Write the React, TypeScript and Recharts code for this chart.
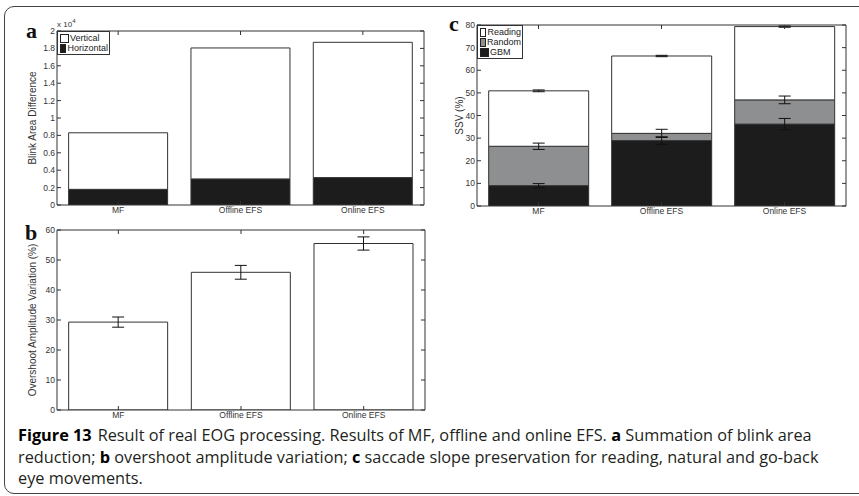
import { BarChart, Bar, XAxis, YAxis, ErrorBar } from "recharts";

const methods = ["MF", "Offline EFS", "Online EFS"];

// a: blink area difference (raw units, axis shown as x 10^4)
const horizontalArea = [1800, 3000, 3150];
const verticalArea = [6500, 15050, 15550];
const blinkTicks = [0, 2000, 4000, 6000, 8000, 10000, 12000, 14000, 16000, 18000, 20000];

// b: overshoot amplitude variation (%)
const overshoot = [29.3, 45.9, 55.5];
const overshootErr = [1.7, 2.3, 2.2];
const overshootTicks = [0, 10, 20, 30, 40, 50, 60];

// c: SSV (%) stacked segments, GBM at the bottom
const gbm = [9.0, 28.9, 36.2];
const gbmErr = [0.9, 1.7, 2.5];
const random = [17.4, 3.2, 10.7];
const randomErr = [1.4, 1.8, 1.7];
const reading = [24.5, 34.2, 32.4];
const readingErr = [0.4, 0.3, 0.3];
const ssvTicks = [0, 10, 20, 30, 40, 50, 60, 70, 80];

const blinkData = methods.map((name, i) => ({
  name,
  horizontal: horizontalArea[i],
  vertical: verticalArea[i],
}));

const overshootData = methods.map((name, i) => ({
  name,
  value: overshoot[i],
  err: overshootErr[i],
}));

const ssvData = methods.map((name, i) => ({
  name,
  gbm: gbm[i],
  gbmErr: gbmErr[i],
  random: random[i],
  randomErr: randomErr[i],
  reading: reading[i],
  readingErr: readingErr[i],
}));

const AXIS = "#333";
const WHITE = "#ffffff";
const GRAY = "#8e8f91";
const BLACK = "#1c1c1c";
const tickStyle = { fontSize: 8.5, fill: "#333" };
const blankTick = () => <g />;

// matlab style box: inward ticks on all four sides
// (top / right axes are 1px wide, an axis of size 0 is not drawn)
function Panel({ data, width, height, margin, yWidth, yMax, yTicks, yFormat, yLabel, xHeight, children }: any) {
  return (
    <BarChart width={width} height={height} data={data} margin={margin} barCategoryGap="9.5%">
      <XAxis
        dataKey="name"
        height={xHeight}
        tickSize={-4}
        tickMargin={6}
        interval={0}
        tick={tickStyle}
        stroke={AXIS}
      />
      <XAxis
        xAxisId="top"
        dataKey="name"
        orientation="top"
        height={1}
        tickSize={-4}
        interval={0}
        tick={blankTick}
        stroke={AXIS}
      />
      <YAxis
        type="number"
        width={yWidth}
        domain={[0, yMax]}
        ticks={yTicks}
        allowDataOverflow
        interval={0}
        tickSize={-4}
        tickMargin={6}
        tick={tickStyle}
        tickFormatter={yFormat}
        stroke={AXIS}
        label={{ value: yLabel, angle: -90, position: "center", fontSize: 10, fill: "#333" }}
      />
      <YAxis
        yAxisId="right"
        type="number"
        orientation="right"
        width={1}
        domain={[0, yMax]}
        ticks={yTicks}
        allowDataOverflow
        interval={0}
        tickSize={-4}
        tick={blankTick}
        stroke={AXIS}
      />
      {children}
    </BarChart>
  );
}

function BoxLegend({ items, left, top, width }: any) {
  return (
    <div
      style={{
        position: "absolute",
        left,
        top,
        width,
        boxSizing: "border-box",
        border: "1px solid #333",
        background: "#fff",
        padding: "1px 1px 1px 2px",
        fontSize: 9,
        lineHeight: "10px",
        color: "#222",
      }}
    >
      {items.map((it: any) => (
        <div key={it.label} style={{ display: "flex", alignItems: "center", height: 10 }}>
          <span
            style={{
              display: "inline-block",
              width: 7,
              height: 7,
              border: "1px solid #222",
              background: it.color,
              marginRight: 1,
            }}
          />
          {it.label}
        </div>
      ))}
    </div>
  );
}

export default function App() {
  const serif = "'Liberation Serif', 'Times New Roman', serif";
  return (
    <div
      style={{
        position: "absolute",
        left: 0,
        top: 0,
        width: 859,
        height: 496,
        overflow: "hidden",
        background: "#fff",
        fontFamily: "'Liberation Sans', Arial, sans-serif",
      }}
    >
      <div
        style={{
          position: "absolute",
          left: 4,
          top: 6,
          width: 880,
          height: 486,
          border: "1px solid #444",
          borderRadius: 10,
        }}
      />

      <div style={{ position: "absolute", left: 0, top: 0 }}>
        <Panel
          data={blinkData}
          width={440}
          height={225}
          margin={{ top: 30, right: 15, bottom: 0, left: 7 }}
          yWidth={50}
          yMax={20000}
          yTicks={blinkTicks}
          yFormat={(v: number) => String(v / 10000)}
          yLabel="Blink Area Difference"
          xHeight={20}
        >
          <Bar dataKey="horizontal" stackId="s" fill={BLACK} stroke={AXIS} isAnimationActive={false} />
          <Bar dataKey="vertical" stackId="s" fill={WHITE} stroke={AXIS} isAnimationActive={false} />
        </Panel>
      </div>
      <BoxLegend
        left={57}
        top={31}
        width={53}
        items={[
          { label: "Vertical", color: WHITE },
          { label: "Horizontal", color: BLACK },
        ]}
      />

      <div style={{ position: "absolute", left: 0, top: 212 }}>
        <Panel
          data={overshootData}
          width={440}
          height={212}
          margin={{ top: 17, right: 14, bottom: 0, left: 7 }}
          yWidth={50}
          yMax={60}
          yTicks={overshootTicks}
          yLabel="Overshoot Amplitude Variation (%)"
          xHeight={14}
        >
          <Bar dataKey="value" fill={WHITE} stroke={AXIS} isAnimationActive={false}>
            <ErrorBar dataKey="err" width={6} stroke="#111" strokeWidth={1} direction="y" />
          </Bar>
        </Panel>
      </div>

      <div style={{ position: "absolute", left: 430, top: 0 }}>
        <Panel
          data={ssvData}
          width={429}
          height={226}
          margin={{ top: 24, right: 12, bottom: 0, left: 11 }}
          yWidth={36}
          yMax={80}
          yTicks={ssvTicks}
          yLabel="SSV (%)"
          xHeight={20}
        >
          <Bar dataKey="gbm" stackId="s" fill={BLACK} stroke={AXIS} isAnimationActive={false}>
            <ErrorBar dataKey="gbmErr" width={6} stroke="#111" strokeWidth={1} direction="y" />
          </Bar>
          <Bar dataKey="random" stackId="s" fill={GRAY} stroke={AXIS} isAnimationActive={false}>
            <ErrorBar dataKey="randomErr" width={6} stroke="#111" strokeWidth={1} direction="y" />
          </Bar>
          <Bar dataKey="reading" stackId="s" fill={WHITE} stroke={AXIS} isAnimationActive={false}>
            <ErrorBar dataKey="readingErr" width={6} stroke="#111" strokeWidth={1} direction="y" />
          </Bar>
        </Panel>
      </div>
      <BoxLegend
        left={477}
        top={25}
        width={46}
        items={[
          { label: "Reading", color: WHITE },
          { label: "Random", color: GRAY },
          { label: "GBM", color: BLACK },
        ]}
      />

      <svg
        width={859}
        height={496}
        style={{ position: "absolute", left: 0, top: 0, pointerEvents: "none" }}
      >
        <text x={26} y={38} fontFamily={serif} fontWeight="bold" fontSize={22} fill="#111">a</text>
        <text x={25} y={240} fontFamily={serif} fontWeight="bold" fontSize={22} fill="#111">b</text>
        <text x={449} y={31} fontFamily={serif} fontWeight="bold" fontSize={22} fill="#111">c</text>
        <text x={57} y={27} fontSize={8} fill="#333">
          x 10<tspan dy={-4} fontSize={6}>4</tspan>
        </text>
        <g fontFamily="'Open Sans', Lato, sans-serif" fontSize={16.3} fill="#231f20">
          <text x={18} y={441}>
            <tspan fontWeight="bold" fill="#000">Figure 13</tspan>
            <tspan dx={6}>Result of real EOG processing. Results of MF, offline and online EFS. </tspan>
            <tspan fontWeight="bold" fill="#000">a</tspan>
            <tspan> Summation of blink area</tspan>
          </text>
          <text x={18} y={463}>
            <tspan>reduction; </tspan>
            <tspan fontWeight="bold" fill="#000">b</tspan>
            <tspan> overshoot amplitude variation; </tspan>
            <tspan fontWeight="bold" fill="#000">c</tspan>
            <tspan> saccade slope preservation for reading, natural and go-back</tspan>
          </text>
          <text x={18} y={484}>eye movements.</text>
        </g>
      </svg>
    </div>
  );
}
